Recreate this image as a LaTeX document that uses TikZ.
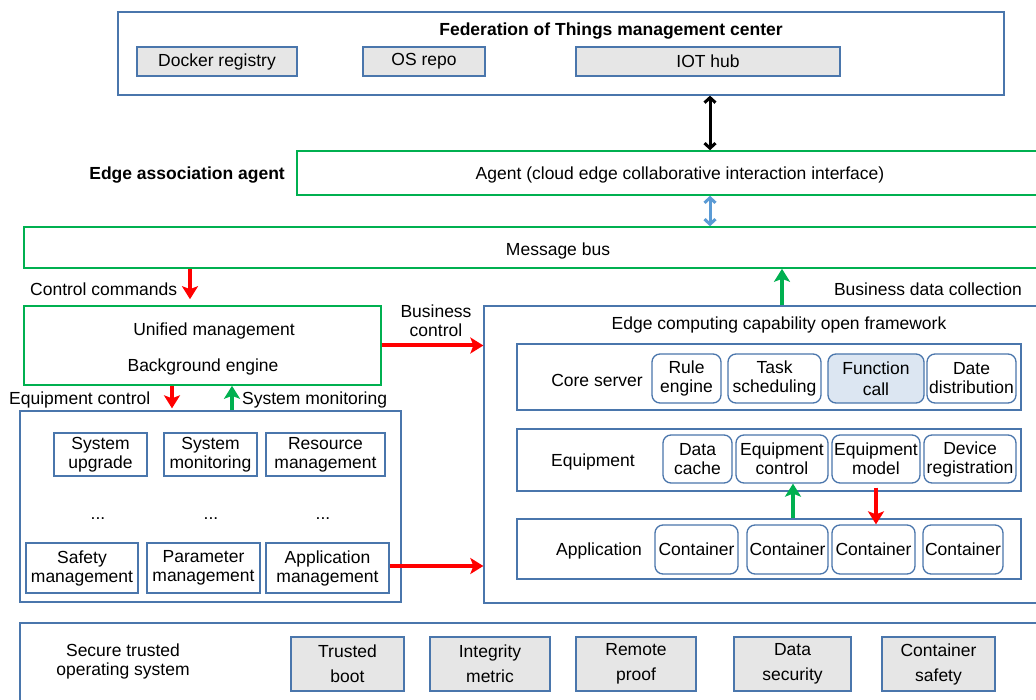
\documentclass[tikz,border=0pt]{standalone}
\usepackage{fontspec}
\setmainfont{Liberation Sans}
\usepackage{tikz}
\usepackage{xcolor}
\usetikzlibrary{positioning,arrows.meta}
\definecolor{boxblue}{HTML}{4A76AC}
\definecolor{busgreen}{HTML}{00B050}
\definecolor{arrred}{HTML}{FF0000}
\definecolor{lineblue}{HTML}{5B9BD5}
\definecolor{boxgray}{HTML}{E6E6E6}
\definecolor{callblue}{HTML}{DCE6F2}
\tikzset{
  every node/.style={font=\fontsize{17.5}{19}\selectfont, inner sep=0pt, align=center},
  bluebox/.style={draw=boxblue, line width=1.3pt},
  graybox/.style={bluebox, fill=boxgray},
  greenbox/.style={draw=busgreen, line width=1.6pt},
  rbox/.style={bluebox, rounded corners=8pt},
  redarr/.style={draw=arrred, line width=4pt, -{Stealth[length=13pt,width=16pt,inset=3pt]}},
  grnarr/.style={draw=busgreen, line width=4pt, -{Stealth[length=13pt,width=16pt,inset=3pt]}},
  dblarr/.style={line width=3pt, {Straight Barb[length=5pt,width=11pt]}-{Straight Barb[length=5pt,width=11pt]}}
}
\begin{document}
\begin{tikzpicture}[x=1pt,y=-1pt]
\clip (0,0) rectangle (1036,700);
\fill [white] (0,0) rectangle (1036,700);
\node [bluebox, minimum width=886pt, minimum height=83pt] (fotmc) at (561,53.5) {};
\node [font=\fontsize{17.5}{19}\selectfont\bfseries] (fotmctitle) at (611,31) {Federation of Things management center};
\node [graybox, minimum width=160pt, minimum height=29pt] (docker) at (217,61.5) {Docker registry};
\node [graybox, minimum width=122pt, minimum height=29pt] (osrepo) at (424,61.5) {OS repo};
\node [graybox, minimum width=264pt, minimum height=29pt] (iothub) at (708,61.5) {IOT hub};
\node [font=\fontsize{17.5}{19}\selectfont\bfseries, anchor=east] (eaa) at (285,175) {Edge association agent};
\node [greenbox, minimum width=748pt, minimum height=44pt] (agent) at (671,173) {};
\node (agenttext) at (680,175) {Agent (cloud edge collaborative interaction interface)};
\node [greenbox, minimum width=1021pt, minimum height=41pt] (msgbus) at (534.5,247.5) {};
\node (msgbustext) at (558,251) {Message bus};
\node [anchor=west] (ctrlcmd) at (30,289) {Control commands};
\node [anchor=east] (bdc) at (1022,289) {Business data collection};
\node [greenbox, minimum width=357pt, minimum height=79pt] (unified) at (202.5,345.5) {};
\node (unitext) at (214,331) {Unified management};
\node (bgengine) at (203,367) {Background engine};
\node (busctrl) at (436,321) {Business\\control};
\node [anchor=west] (eqctllabel) at (9,400) {Equipment control};
\node [anchor=west] (sysmonlabel) at (242,400) {System monitoring};
\node [bluebox, minimum width=381pt, minimum height=191pt] (leftbox) at (210.5,506.5) {};
\node [bluebox, minimum width=93pt, minimum height=43pt] (sysup) at (100.5,454.5) {System\\upgrade};
\node [bluebox, minimum width=93pt, minimum height=43pt] (sysmon) at (210.5,454.5) {System\\monitoring};
\node [bluebox, minimum width=119pt, minimum height=43pt] (resmgmt) at (325.5,454.5) {Resource\\management};
\node [anchor=base] (dotsa) at (98,519) {...};
\node [anchor=base] (dotsb) at (211,519) {...};
\node [anchor=base] (dotsc) at (323,519) {...};
\node [bluebox, minimum width=112pt, minimum height=50pt] (safemgmt) at (82,568) {Safety\\management};
\node [bluebox, minimum width=113pt, minimum height=50pt] (parmgmt) at (203.5,568) {Parameter\\management};
\node [bluebox, minimum width=123pt, minimum height=50pt] (appmgmt) at (327.5,568) {Application\\management};
\node [bluebox, minimum width=561pt, minimum height=297pt] (frame) at (764.5,454.5) {};
\node (frametitle) at (779,325) {Edge computing capability open framework};
\node [bluebox, minimum width=504pt, minimum height=66pt] (corerow) at (769,377) {};
\node (corelabel) at (597,380) {Core server};
\node [rbox, minimum width=69pt, minimum height=49pt] (rule) at (686.5,378.5) {Rule\\engine};
\node [rbox, minimum width=93pt, minimum height=49pt] (task) at (774.5,378.5) {Task\\scheduling};
\node [rbox, fill=callblue, minimum width=96pt, minimum height=49pt] (funcall) at (876,378.5) {Function\\[2pt]call};
\node [rbox, minimum width=89pt, minimum height=49pt] (datedist) at (971.5,378.5) {Date\\distribution};
\node [bluebox, minimum width=504pt, minimum height=62pt] (equiprow) at (769,460) {};
\node (equiplabel) at (593,462) {Equipment};
\node [rbox, minimum width=69pt, minimum height=48pt] (datacache) at (697.5,459) {Data\\cache};
\node [rbox, minimum width=92pt, minimum height=48pt] (eqctl) at (782,459) {Equipment\\control};
\node [rbox, minimum width=88pt, minimum height=48pt] (eqmodel) at (876,459) {Equipment\\model};
\node [rbox, minimum width=92pt, minimum height=48pt] (devreg) at (970,459) {Device\\registration};
\node [bluebox, minimum width=504pt, minimum height=60pt] (approw) at (769,549) {};
\node (applabel) at (599,551) {Application};
\node [rbox, minimum width=83pt, minimum height=49pt] (conta) at (696.5,549.5) {Container};
\node [rbox, minimum width=81pt, minimum height=49pt] (contb) at (787.5,549.5) {Container};
\node [rbox, minimum width=83pt, minimum height=49pt] (contc) at (873.5,549.5) {Container};
\node [rbox, minimum width=80pt, minimum height=49pt] (contd) at (963,549.5) {Container};
\node [bluebox, minimum width=1025pt, minimum height=87pt] (secbox) at (532.5,666.5) {};
\node (sectext) at (123,661.5) {Secure trusted\\operating system};
\node [graybox, minimum width=113pt, minimum height=54pt] (tboot) at (347.5,664) {Trusted\\[6pt]boot};
\node [graybox, minimum width=120pt, minimum height=54pt] (intmet) at (490,664) {Integrity\\[6pt]metric};
\node [graybox, minimum width=120pt, minimum height=54pt] (rproof) at (636,664) {Remote\\[6pt]proof};
\node [graybox, minimum width=117pt, minimum height=54pt] (datasec) at (792.5,664) {Data\\[6pt]security};
\node [graybox, minimum width=113pt, minimum height=54pt] (contsafe) at (938.5,664) {Container\\[6pt]safety};
\coordinate (cmdx) at (190,0);
\coordinate (bdcx) at (782,0);
\coordinate (eqx) at (172,0);
\coordinate (monx) at (232,0);
\coordinate (upx) at (793,0);
\coordinate (hubx) at (710,0);
\draw [dblarr, black] (fotmc.south -| hubx) -- (agent.north -| hubx);
\draw [dblarr, lineblue] (agent.south -| hubx) -- (msgbus.north -| hubx);
\draw [redarr, shorten >=6pt] (msgbus.south -| cmdx) -- (unified.north -| cmdx);
\draw [grnarr] (frame.north -| bdcx) -- (msgbus.south -| bdcx);
\draw [redarr] (unified.east) -- (unified.east -| frame.west);
\draw [redarr, shorten >=2pt] (unified.south -| eqx) -- (leftbox.north -| eqx);
\draw [grnarr] (leftbox.north -| monx) -- (unified.south -| monx);
\draw [redarr] ([yshift=2pt]appmgmt.east) -- ([yshift=2pt]appmgmt.east -| frame.west);
\draw [grnarr] (approw.north -| upx) -- (eqctl.south -| upx);
\draw [redarr, shorten <=4pt] (eqmodel.south) -- (contc.north -| eqmodel.south);
\end{tikzpicture}
\end{document}
